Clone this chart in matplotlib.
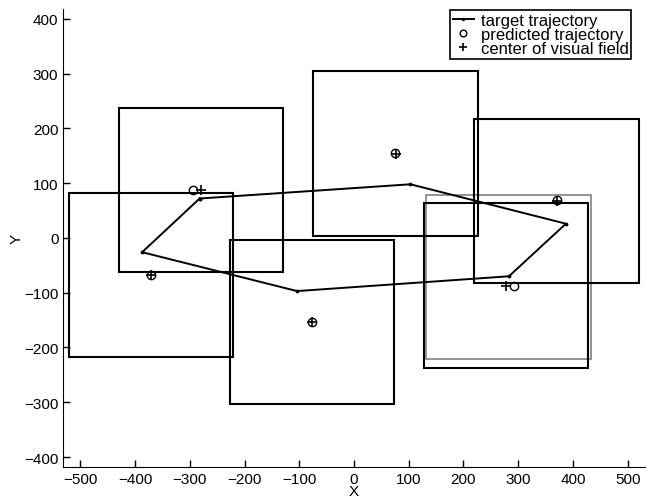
import matplotlib
matplotlib.use("Agg")
import matplotlib.pyplot as plt
from matplotlib.patches import Rectangle

plt.rcParams['font.family'] = ['Liberation Sans', 'DejaVu Sans']

# target trajectory (closed loop)
target_x = [-282, 103, 387, 283, -104, -387, -282]
target_y = [72, 98, 26, -70, -97, -26, 72]

# predicted trajectory points
pred_x = [-295, -371, 75, -77, 370, 293]
pred_y = [87, -68, 155, -154, 69, -87]

# centers of visual field
center_x = [-279, -371, 76, -77, 370, 278]
center_y = [87, -68, 154, -154, 68, -87]

# visual field size
field_w = 300
field_h = 300

# extra (gray) field centered on a trajectory point
gray_center_x = [282]
gray_center_y = [-71]

x_ticks = [-500, -400, -300, -200, -100, 0, 100, 200, 300, 400, 500]
y_ticks = [-400, -300, -200, -100, 0, 100, 200, 300, 400]

fig = plt.figure(figsize=(6.46, 5.02), dpi=100)
ax = fig.add_axes([0.098, 0.068, 0.9, 0.912])

for cx, cy in zip(gray_center_x, gray_center_y):
    ax.add_patch(Rectangle((cx - field_w / 2, cy - field_h / 2), field_w, field_h,
                           fill=False, edgecolor='#808080', linewidth=1.2))
for cx, cy in zip(center_x, center_y):
    ax.add_patch(Rectangle((cx - field_w / 2, cy - field_h / 2), field_w, field_h,
                           fill=False, edgecolor='black', linewidth=1.5))

ax.plot(target_x, target_y, '-', color='black', linewidth=1.4, marker='.',
        markersize=3.5, label='target trajectory')
ax.plot(pred_x, pred_y, 'o', color='black', markerfacecolor='none',
        markersize=6, markeredgewidth=1.0, linestyle='none', label='predicted trajectory')
ax.plot(center_x, center_y, '+', color='black', markersize=7,
        markeredgewidth=1.2, linestyle='none', label='center of visual field')

ax.set_xlim(-531, 531)
ax.set_ylim(-418, 418)
ax.set_xticks(x_ticks)
ax.set_yticks(y_ticks)
ax.tick_params(direction='in', length=5, labelsize=11, width=1)
ax.spines['top'].set_visible(False)
ax.spines['right'].set_visible(False)
ax.set_xlabel('X', fontsize=11)
ax.set_ylabel('Y', fontsize=11)
ax.xaxis.set_label_coords(0.5, -0.038)
ax.yaxis.set_label_coords(-0.068, 0.5)

leg = ax.legend(loc='upper right', bbox_to_anchor=(0.977, 0.997), borderaxespad=0,
                fancybox=False, edgecolor='black', framealpha=1, fontsize=12,
                handlelength=1.3, handletextpad=0.4, labelspacing=-0.05,
                borderpad=0.15, markerscale=0.8)
leg.get_frame().set_linewidth(1.2)

fig.savefig('out.png', dpi=100)
